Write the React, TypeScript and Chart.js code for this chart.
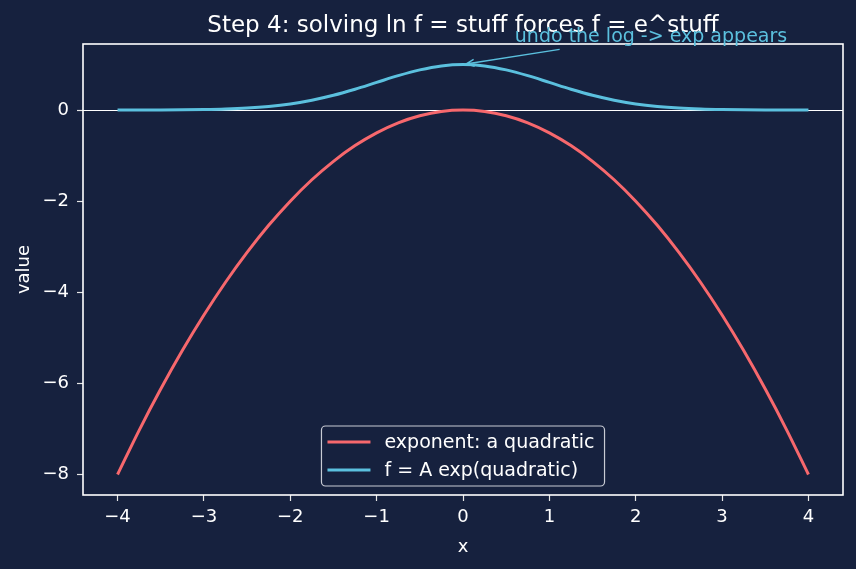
import React, { useEffect, useRef } from "react";
import { Chart, registerables } from "chart.js";

Chart.register(...registerables);

const TITLE = "Step 4: solving ln f = stuff forces f = e^stuff";
const X_LABEL = "x";
const Y_LABEL = "value";
const SERIES_LABELS = ["exponent: a quadratic", "f = A exp(quadratic)"];
const SERIES_COLORS = ["#f7686d", "#5bc0de"];

const X_VALUES = [
  -4, -3.75, -3.5, -3.25, -3, -2.75, -2.5, -2.25, -2, -1.75, -1.5, -1.25, -1, -0.75, -0.5, -0.25,
  0, 0.25, 0.5, 0.75, 1, 1.25, 1.5, 1.75, 2, 2.25, 2.5, 2.75, 3, 3.25, 3.5, 3.75, 4,
];
const EXPONENT_VALUES = [
  -8, -7.03, -6.125, -5.28, -4.5, -3.78, -3.125, -2.53, -2, -1.53, -1.125, -0.78, -0.5, -0.28, -0.125, -0.03,
  0, -0.03, -0.125, -0.28, -0.5, -0.78, -1.125, -1.53, -2, -2.53, -3.125, -3.78, -4.5, -5.28, -6.125, -7.03, -8,
];
const F_VALUES = [
  0.0003, 0.0009, 0.0022, 0.0051, 0.011, 0.0228, 0.044, 0.0797, 0.135, 0.217, 0.325, 0.458, 0.607, 0.755, 0.882, 0.969,
  1, 0.969, 0.882, 0.755, 0.607, 0.458, 0.325, 0.217, 0.135, 0.0797, 0.044, 0.0228, 0.011, 0.0051, 0.0022, 0.0009, 0.0003,
];
const X_TICKS = [-4, -3, -2, -1, 0, 1, 2, 3, 4];
const Y_TICKS = [-8, -6, -4, -2, 0];
const X_RANGE = [-4.4, 4.4];
const Y_RANGE = [-8.45, 1.45];

const ANNOTATION_TEXT = "undo the log -> exp appears";
const ANNOTATION_POINT = [0, 1];
const ANNOTATION_TEXT_POS = [0.6, 1.5];

const BG = "#16213e";
const FG = "#ffffff";
const FONT = "DejaVu Sans";

const fmt = (v: number) => (v < 0 ? "\u2212" + Math.abs(v) : String(v));

const overlay = {
  id: "overlay",
  beforeDraw(chart: any) {
    const { ctx, width, height } = chart;
    ctx.save();
    ctx.fillStyle = BG;
    ctx.fillRect(0, 0, width, height);
    ctx.restore();
  },
  beforeDatasetsDraw(chart: any) {
    const { ctx, chartArea } = chart;
    const y0 = Math.round(chart.scales.y.getPixelForValue(0)) + 0.5;
    ctx.save();
    ctx.strokeStyle = FG;
    ctx.lineWidth = 1;
    ctx.beginPath();
    ctx.moveTo(chartArea.left, y0);
    ctx.lineTo(chartArea.right, y0);
    ctx.stroke();
    ctx.restore();
  },
  afterDraw(chart: any) {
    const { ctx, chartArea } = chart;
    const xs = chart.scales.x;
    const ys = chart.scales.y;
    ctx.save();
    // frame
    ctx.strokeStyle = FG;
    ctx.lineWidth = 1.6;
    ctx.strokeRect(chartArea.left, chartArea.top, chartArea.right - chartArea.left, chartArea.bottom - chartArea.top);

    const cx = (chartArea.left + chartArea.right) / 2;
    // title
    ctx.fillStyle = FG;
    ctx.font = `23px "${FONT}"`;
    ctx.textAlign = "center";
    ctx.textBaseline = "alphabetic";
    ctx.fillText(TITLE, cx, 32);

    // axis labels
    ctx.font = `18px "${FONT}"`;
    ctx.fillText(X_LABEL, cx, 552);
    ctx.save();
    ctx.translate(29, (chartArea.top + chartArea.bottom) / 2);
    ctx.rotate(-Math.PI / 2);
    ctx.fillText(Y_LABEL, 0, 0);
    ctx.restore();

    // annotation
    const aFont = 19;
    ctx.font = `${aFont}px "${FONT}"`;
    ctx.textAlign = "left";
    const tx = xs.getPixelForValue(ANNOTATION_TEXT_POS[0]);
    const ty = ys.getPixelForValue(ANNOTATION_TEXT_POS[1]);
    const tw = ctx.measureText(ANNOTATION_TEXT).width;
    ctx.fillStyle = SERIES_COLORS[1];
    ctx.fillText(ANNOTATION_TEXT, tx, ty);
    const bcx = tx + tw / 2;
    const bcy = ty - aFont * 0.35;
    const px = xs.getPixelForValue(ANNOTATION_POINT[0]);
    const py = ys.getPixelForValue(ANNOTATION_POINT[1]);
    const dx = px - bcx;
    const dy = py - bcy;
    const len = Math.hypot(dx, dy);
    const ux = dx / len;
    const uy = dy / len;
    const halfW = tw / 2 + 2;
    const halfH = aFont * 0.72;
    const tExit = Math.min(halfW / Math.abs(dx), halfH / Math.abs(dy)) * len + 4;
    const sx = bcx + ux * tExit;
    const sy = bcy + uy * tExit;
    const ex = px - ux * 3;
    const ey = py - uy * 3;
    ctx.strokeStyle = SERIES_COLORS[1];
    ctx.lineWidth = 1.4;
    ctx.beginPath();
    ctx.moveTo(sx, sy);
    ctx.lineTo(ex, ey);
    const ang = Math.atan2(uy, ux);
    const hl = 9;
    const ha = 0.4;
    ctx.moveTo(ex - hl * Math.cos(ang - ha), ey - hl * Math.sin(ang - ha));
    ctx.lineTo(ex, ey);
    ctx.lineTo(ex - hl * Math.cos(ang + ha), ey - hl * Math.sin(ang + ha));
    ctx.stroke();

    // legend
    ctx.font = `19px "${FONT}"`;
    const datasets = chart.data.datasets;
    let maxW = 0;
    datasets.forEach((d: any) => (maxW = Math.max(maxW, ctx.measureText(d.label).width)));
    const padL = 6, handle = 43, gap = 14, padR = 10, rowH = 28, padT = 16;
    const boxW = padL + handle + gap + maxW + padR;
    const boxH = padT * 2 + rowH * (datasets.length - 1);
    const bx = cx - boxW / 2;
    const by = chartArea.bottom - 9 - boxH;
    ctx.beginPath();
    ctx.roundRect(bx, by, boxW, boxH, 4);
    ctx.fillStyle = "rgba(22,33,62,0.85)";
    ctx.fill();
    ctx.strokeStyle = "#c8cbd4";
    ctx.lineWidth = 1.2;
    ctx.stroke();
    ctx.textBaseline = "middle";
    datasets.forEach((d: any, i: number) => {
      const ly = by + padT + i * rowH;
      ctx.strokeStyle = d.borderColor;
      ctx.lineWidth = d.borderWidth;
      ctx.beginPath();
      ctx.moveTo(bx + padL, ly);
      ctx.lineTo(bx + padL + handle, ly);
      ctx.stroke();
      ctx.fillStyle = FG;
      ctx.fillText(d.label, bx + padL + handle + gap, ly + 1);
    });
    ctx.restore();
  },
};

export default function App() {
  const ref = useRef<HTMLCanvasElement | null>(null);
  useEffect(() => {
    const canvas = ref.current;
    if (!canvas) return;
    const tickFont = { family: FONT, size: 18 };
    const chart = new Chart(canvas, {
      type: "line",
      data: {
        datasets: [
          {
            label: SERIES_LABELS[0],
            data: X_VALUES.map((x, i) => ({ x, y: EXPONENT_VALUES[i] })),
            borderColor: SERIES_COLORS[0],
            backgroundColor: SERIES_COLORS[0],
            borderWidth: 3,
            pointRadius: 0,
            cubicInterpolationMode: "monotone",
            fill: false,
          },
          {
            label: SERIES_LABELS[1],
            data: X_VALUES.map((x, i) => ({ x, y: F_VALUES[i] })),
            borderColor: SERIES_COLORS[1],
            backgroundColor: SERIES_COLORS[1],
            borderWidth: 3,
            pointRadius: 0,
            cubicInterpolationMode: "monotone",
            fill: false,
          },
        ],
      },
      options: {
        animation: false,
        responsive: false,
        devicePixelRatio: 1,
        layout: { padding: { left: 0, top: 44, right: 13, bottom: 0 } },
        plugins: { legend: { display: false }, title: { display: false }, tooltip: { enabled: false } },
        scales: {
          x: {
            type: "linear",
            min: X_RANGE[0],
            max: X_RANGE[1],
            afterBuildTicks: (s: any) => {
              s.ticks = X_TICKS.map((v) => ({ value: v }));
            },
            afterFit: (s: any) => {
              s.height = 74;
            },
            ticks: { color: FG, font: tickFont, padding: 6, autoSkip: false, maxRotation: 0, callback: (v: any) => fmt(Number(v)) },
            grid: { display: true, drawOnChartArea: false, drawTicks: true, tickLength: 6, tickWidth: 1.2, tickColor: "#e6e6e6", color: "#e6e6e6" },
            border: { display: false },
          },
          y: {
            type: "linear",
            min: Y_RANGE[0],
            max: Y_RANGE[1],
            afterBuildTicks: (s: any) => {
              s.ticks = Y_TICKS.map((v) => ({ value: v }));
            },
            afterFit: (s: any) => {
              s.width = 83;
            },
            ticks: { color: FG, font: tickFont, padding: 8, autoSkip: false, callback: (v: any) => fmt(Number(v)) },
            grid: { display: true, drawOnChartArea: false, drawTicks: true, tickLength: 6, tickWidth: 1.2, tickColor: "#e6e6e6", color: "#e6e6e6" },
            border: { display: false },
          },
        },
      },
      plugins: [overlay],
    } as any);
    return () => chart.destroy();
  }, []);
  return (
    <div style={{ position: "fixed", left: 0, top: 0, width: 856, height: 569, background: BG }}>
      <canvas ref={ref} width={856} height={569} style={{ display: "block", width: 856, height: 569 }} />
    </div>
  );
}
